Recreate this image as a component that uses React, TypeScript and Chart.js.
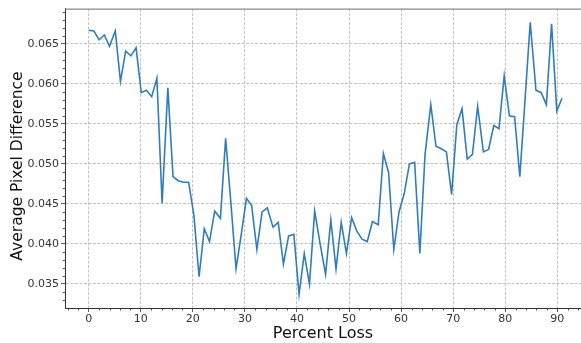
import React, { useEffect, useRef } from 'react';
import { Chart, registerables } from 'chart.js';

Chart.register(...registerables);

const percentLoss = [
  0, 1, 2, 3, 4, 5.1, 6.1, 7.1, 8.1, 9.1,
  10.1, 11.1, 12.1, 13.1, 14.1, 15.2, 16.2, 17.2, 18.2, 19.2,
  20.2, 21.2, 22.2, 23.2, 24.2, 25.3, 26.3, 27.3, 28.3, 29.3,
  30.3, 31.3, 32.3, 33.3, 34.3, 35.4, 36.4, 37.4, 38.4, 39.4,
  40.4, 41.4, 42.4, 43.4, 44.4, 45.5, 46.5, 47.5, 48.5, 49.5,
  50.5, 51.5, 52.5, 53.5, 54.5, 55.6, 56.6, 57.6, 58.6, 59.6,
  60.6, 61.6, 62.6, 63.6, 64.6, 65.7, 66.7, 67.7, 68.7, 69.7,
  70.7, 71.7, 72.7, 73.7, 74.7, 75.8, 76.8, 77.8, 78.8, 79.8,
  80.8, 81.8, 82.8, 83.8, 84.8, 85.9, 86.9, 87.9, 88.9, 89.9,
  90.9,
];

const avgPixelDiff = [
  0.0667, 0.0666, 0.0655, 0.0661, 0.0647, 0.0666, 0.0603, 0.0641, 0.0635, 0.0645,
  0.0589, 0.0592, 0.0584, 0.0607, 0.0451, 0.0595, 0.0484, 0.0479, 0.0477, 0.0477,
  0.0436, 0.0359, 0.0419, 0.0403, 0.0441, 0.0432, 0.0532, 0.0452, 0.0369, 0.0412,
  0.0457, 0.0448, 0.0393, 0.0440, 0.0445, 0.0421, 0.0427, 0.0375, 0.0410, 0.0412,
  0.0337, 0.0388, 0.0350, 0.0441, 0.0402, 0.0362, 0.0430, 0.0369, 0.0427, 0.0388,
  0.0433, 0.0416, 0.0406, 0.0403, 0.0428, 0.0424, 0.0513, 0.0489, 0.0393, 0.0440,
  0.0463, 0.0500, 0.0502, 0.0388, 0.0512, 0.0574, 0.0522, 0.0519, 0.0515, 0.0462,
  0.0549, 0.0569, 0.0506, 0.0512, 0.0572, 0.0515, 0.0518, 0.0548, 0.0544, 0.0610,
  0.0560, 0.0559, 0.0484, 0.0580, 0.0677, 0.0592, 0.0589, 0.0574, 0.0675, 0.0566,
  0.0582,
];

const xTickValues = [0, 10, 20, 30, 40, 50, 60, 70, 80, 90];
const yTickValues = [0.035, 0.04, 0.045, 0.05, 0.055, 0.06, 0.065];
const xMinorTicks = [-4, -2, 2, 4, 6, 8, 12, 14, 16, 18, 22, 24, 26, 28, 32, 34, 36, 38, 42, 44, 46, 48, 52, 54, 56, 58, 62, 64, 66, 68, 72, 74, 76, 78, 82, 84, 86, 88, 92, 94];
const yMinorTicks = [0.032, 0.033, 0.034, 0.036, 0.037, 0.038, 0.039, 0.041, 0.042, 0.043, 0.044, 0.046, 0.047, 0.048, 0.049, 0.051, 0.052, 0.053, 0.054, 0.056, 0.057, 0.058, 0.059, 0.061, 0.062, 0.063, 0.064, 0.066, 0.067, 0.068, 0.069];

const xTitle = 'Percent Loss';
const yTitle = 'Average Pixel Difference';

const FONT = 'DejaVu Sans';
const SPINE = '#333333';

const decorPlugin = {
  id: 'decor',
  afterDraw(chart: any) {
    const ctx = chart.ctx;
    const area = chart.chartArea;
    const xs = chart.scales.x;
    const ys = chart.scales.y;
    ctx.save();
    ctx.strokeStyle = SPINE;
    ctx.lineWidth = 0.8;
    ctx.beginPath();
    xMinorTicks.forEach((v) => {
      const px = Math.round(xs.getPixelForValue(v)) + 0.5;
      if (px < area.left || px > area.right) return;
      ctx.moveTo(px, area.bottom);
      ctx.lineTo(px, area.bottom + 2.5);
    });
    yMinorTicks.forEach((v) => {
      const py = Math.round(ys.getPixelForValue(v)) + 0.5;
      if (py < area.top || py > area.bottom) return;
      ctx.moveTo(area.left, py);
      ctx.lineTo(area.left - 2.5, py);
    });
    ctx.stroke();
    // top spine
    ctx.strokeStyle = '#888888';
    ctx.lineWidth = 1.2;
    ctx.beginPath();
    ctx.moveTo(area.left, area.top + 0.5);
    ctx.lineTo(area.right, area.top + 0.5);
    ctx.stroke();
    // y-axis title
    ctx.fillStyle = '#111111';
    ctx.font = `15.5px "${FONT}"`;
    ctx.textAlign = 'center';
    ctx.textBaseline = 'middle';
    ctx.translate(18, 166);
    ctx.rotate(-Math.PI / 2);
    ctx.fillText(yTitle, 0, 0);
    ctx.restore();
  },
};

export default function App() {
  const canvasRef = useRef<HTMLCanvasElement | null>(null);

  useEffect(() => {
    document.body.style.margin = '0';
    const canvas = canvasRef.current;
    if (!canvas) return;
    const points = percentLoss.map((x, i) => ({ x, y: avgPixelDiff[i] }));
    const chart = new Chart(canvas, {
      type: 'line',
      data: {
        datasets: [
          {
            data: points,
            borderColor: '#2f7ebc',
            borderWidth: 1.6,
            pointRadius: 0,
            tension: 0,
            fill: false,
          },
        ],
      },
      options: {
        responsive: false,
        animation: false,
        devicePixelRatio: 1,
        layout: { padding: { top: 5, right: 0, bottom: 0, left: 0 } },
        plugins: { legend: { display: false }, tooltip: { enabled: false } },
        scales: {
          x: {
            type: 'linear',
            min: -4.55,
            max: 94.55,
            afterBuildTicks: (scale: any) => {
              scale.ticks = xTickValues.map((v) => ({ value: v }));
            },
            afterFit: (scale: any) => {
              scale.height = 35;
            },
            grid: {
              color: '#b5b5b5',
              lineWidth: 0.8,
              tickLength: 4,
              tickColor: SPINE,
              tickWidth: 0.8,
            },
            border: { display: true, color: SPINE, width: 1, dash: [3, 1.5] },
            ticks: {
              padding: 1,
              color: '#333333',
              font: { family: FONT, size: 11 },
              maxRotation: 0,
              callback: (v: any) => String(v),
            },
            title: {
              display: true,
              text: xTitle,
              color: '#111111',
              font: { family: FONT, size: 16 },
              padding: { top: 0, bottom: 0 },
            },
          },
          y: {
            type: 'linear',
            min: 0.032,
            max: 0.0694,
            afterBuildTicks: (scale: any) => {
              scale.ticks = yTickValues.map((v) => ({ value: v }));
            },
            afterFit: (scale: any) => {
              scale.width = 65;
            },
            grid: {
              color: '#b5b5b5',
              lineWidth: 0.8,
              tickLength: 4,
              tickColor: SPINE,
              tickWidth: 0.8,
            },
            border: { display: true, color: SPINE, width: 1, dash: [3, 1.5] },
            ticks: {
              padding: 2,
              color: '#333333',
              font: { family: FONT, size: 11 },
              callback: (v: any) => Number(v).toFixed(3),
            },
            title: { display: false },
          },
        },
      },
      plugins: [decorPlugin],
    });
    return () => chart.destroy();
  }, []);

  return (
    <div style={{ position: 'fixed', left: 0, top: 0, width: 581, height: 343, background: '#ffffff' }}>
      <canvas ref={canvasRef} width={581} height={343} style={{ display: 'block' }} />
    </div>
  );
}
